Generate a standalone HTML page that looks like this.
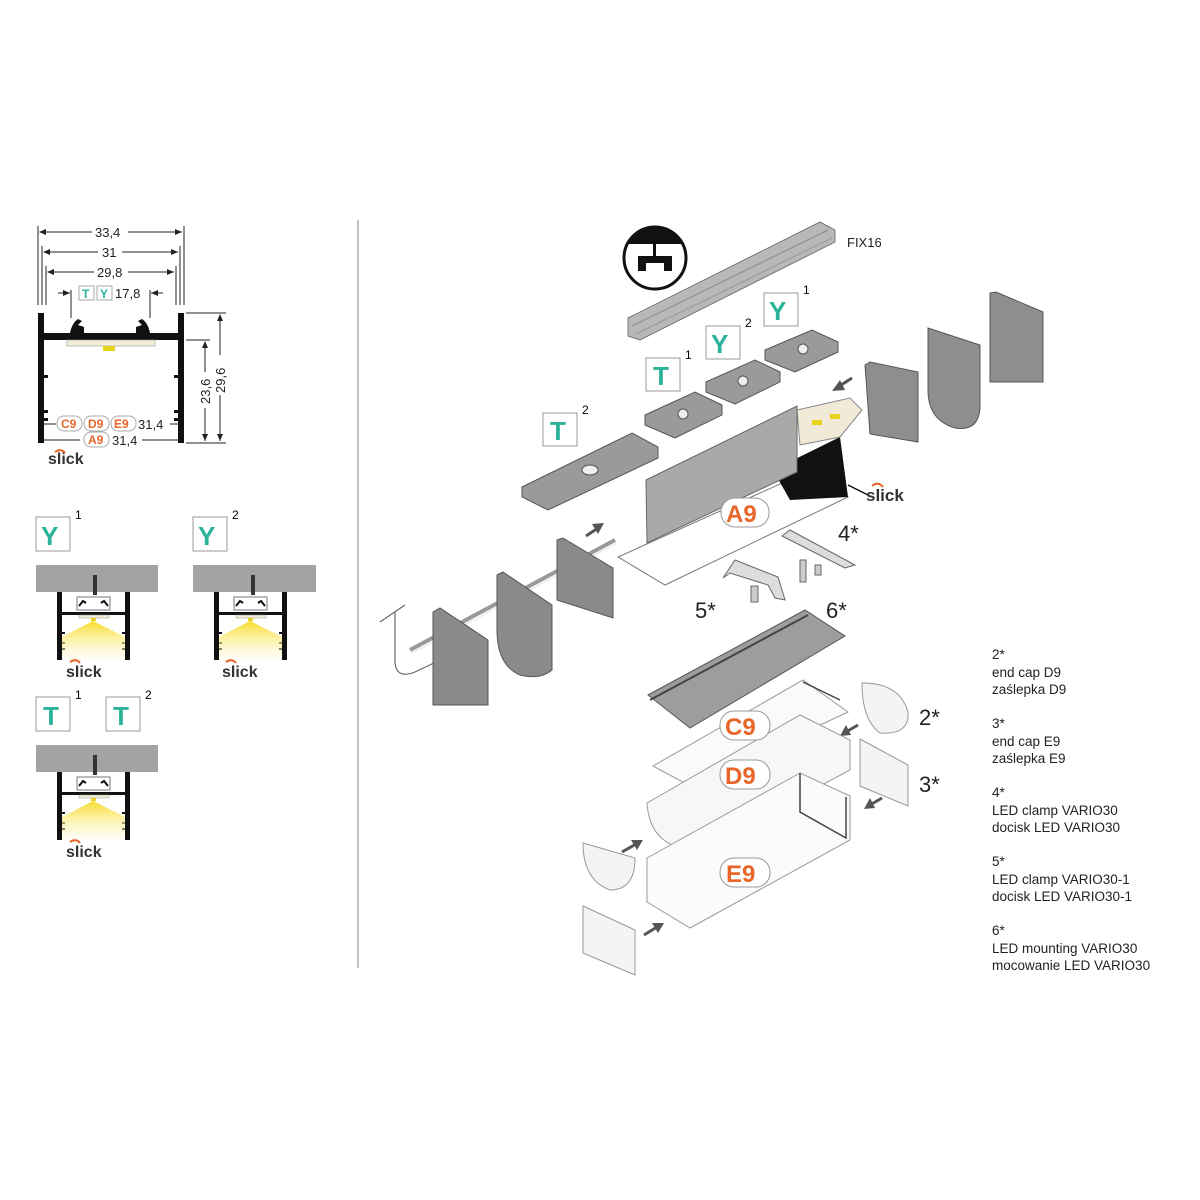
<!DOCTYPE html>
<html><head><meta charset="utf-8"><style>
html,body{margin:0;padding:0;background:#fff;}
svg{display:block;font-family:"Liberation Sans",sans-serif;}
.d{font-size:13px;fill:#222;}
.g{font-weight:bold;fill:#2bb39a;}
.o{font-weight:bold;fill:#e8662a;}
.n{font-size:13.5px;fill:#222;}
</style></head><body>
<svg width="1200" height="1200" viewBox="0 0 1200 1200">
<defs>
<marker id="ar" markerWidth="8" markerHeight="8" refX="7" refY="4" orient="auto"><path d="M0,1 L7,4 L0,7 z" fill="#222"/></marker>
<marker id="al" markerWidth="8" markerHeight="8" refX="1" refY="4" orient="auto"><path d="M7,1 L0,4 L7,7 z" fill="#222"/></marker>
<linearGradient id="lt" x1="0" y1="0" x2="0" y2="1"><stop offset="0" stop-color="#f7dc2a"/><stop offset="1" stop-color="#fffbe0" stop-opacity="0.3"/></linearGradient>
<g id="prof">
<rect x="0" y="0" width="5" height="68" fill="#111"/><rect x="68" y="0" width="5" height="68" fill="#111"/>
<rect x="0" y="20" width="73" height="3" fill="#111"/>
<rect x="4" y="40" width="4" height="2" fill="#111"/><rect x="65" y="40" width="4" height="2" fill="#111"/>
<rect x="4" y="50" width="4" height="2" fill="#111"/><rect x="65" y="50" width="4" height="2" fill="#111"/>
<rect x="4" y="56" width="4" height="2" fill="#111"/><rect x="65" y="56" width="4" height="2" fill="#111"/>
<rect x="22" y="23" width="30" height="3" fill="#f3eed6" stroke="#999" stroke-width="0.5"/>
<rect x="34" y="26" width="5" height="3" fill="#e7d21c"/>
<path d="M36,29 L5,45 L5,68 L68,68 L68,45 Z" fill="url(#lt)"/>
<rect x="20" y="5" width="33" height="13" fill="none" stroke="#777"/>
<path d="M22,14 l4,-5 l3,2 M51,14 l-4,-5 l-3,2" stroke="#111" stroke-width="2" fill="none"/>
</g>
</defs>

<line x1="358" y1="220" x2="358" y2="968" stroke="#999" stroke-width="1.2"/>

<g stroke="#222" stroke-width="1" fill="none">
<line x1="38" y1="226" x2="38" y2="305"/><line x1="184" y1="226" x2="184" y2="305"/>
<line x1="42" y1="246" x2="42" y2="305"/><line x1="180" y1="246" x2="180" y2="305"/>
<line x1="46" y1="266" x2="46" y2="305"/><line x1="176" y1="266" x2="176" y2="305"/>
<line x1="71" y1="290" x2="71" y2="318"/><line x1="150" y1="290" x2="150" y2="318"/>
<line x1="40" y1="232" x2="92" y2="232" marker-start="url(#al)"/><line x1="128" y1="232" x2="182" y2="232" marker-end="url(#ar)"/>
<line x1="44" y1="252" x2="98" y2="252" marker-start="url(#al)"/><line x1="122" y1="252" x2="178" y2="252" marker-end="url(#ar)"/>
<line x1="48" y1="272" x2="94" y2="272" marker-start="url(#al)"/><line x1="128" y1="272" x2="174" y2="272" marker-end="url(#ar)"/>
<line x1="58" y1="293" x2="70" y2="293" marker-end="url(#ar)"/><line x1="163" y1="293" x2="151" y2="293" marker-end="url(#ar)"/>
<line x1="186" y1="313" x2="226" y2="313"/><line x1="186" y1="443" x2="226" y2="443"/><line x1="186" y1="340" x2="210" y2="340"/>
<line x1="220" y1="315" x2="220" y2="355" marker-start="url(#al)"/><line x1="220" y1="395" x2="220" y2="441" marker-end="url(#ar)"/>
<line x1="205" y1="342" x2="205" y2="372" marker-start="url(#al)"/><line x1="205" y1="408" x2="205" y2="441" marker-end="url(#ar)"/>
<line x1="44" y1="424" x2="56" y2="424"/><line x1="44" y1="440" x2="80" y2="440"/><line x1="142" y1="440" x2="180" y2="440"/><line x1="170" y1="424" x2="180" y2="424"/>
</g>
<text x="95" y="237" class="d">33,4</text><text x="102" y="257" class="d">31</text><text x="97" y="277" class="d">29,8</text>
<rect x="79" y="286" width="15" height="14" fill="#fff" stroke="#aaa"/><rect x="97" y="286" width="15" height="14" fill="#fff" stroke="#aaa"/>
<text x="82" y="298" font-size="12" class="g">T</text><text x="100" y="298" font-size="12" class="g">Y</text>
<text x="115" y="298" class="d">17,8</text>
<text transform="translate(210,404) rotate(-90)" class="d">23,6</text>
<text transform="translate(225,393) rotate(-90)" class="d">29,6</text>
<rect x="38" y="313" width="6" height="130" fill="#111"/><rect x="178" y="313" width="6" height="130" fill="#111"/>
<rect x="38" y="333" width="146" height="7" fill="#111"/>
<path d="M70,333 q2,-10 8,-14 l4,2 l-4,4 l6,2 l0,6z M150,333 q-2,-10 -8,-14 l-4,2 l4,4 l-6,2 l0,6z" fill="#111"/>
<rect x="67" y="340" width="88" height="6" fill="#f3eed6" stroke="#999" stroke-width="0.6"/>
<rect x="103" y="346" width="12" height="5" fill="#e7d21c"/>
<g fill="#111"><rect x="43" y="375" width="5" height="3"/><rect x="174" y="375" width="5" height="3"/><rect x="43" y="410" width="5" height="3"/><rect x="174" y="410" width="5" height="3"/><rect x="43" y="418" width="5" height="3"/><rect x="174" y="418" width="5" height="3"/></g>
<g font-size="12"><rect x="57" y="416" width="25" height="15" rx="7" fill="#fff" stroke="#aaa"/><rect x="84" y="416" width="25" height="15" rx="7" fill="#fff" stroke="#aaa"/><rect x="111" y="416" width="25" height="15" rx="7" fill="#fff" stroke="#aaa"/>
<text x="61" y="428" class="o">C9</text><text x="88" y="428" class="o">D9</text><text x="114" y="428" class="o">E9</text>
<rect x="84" y="432" width="25" height="15" rx="7" fill="#fff" stroke="#aaa"/><text x="88" y="444" class="o">A9</text></g>
<text x="138" y="429" class="d">31,4</text><text x="112" y="445" class="d">31,4</text>
<text x="48" y="464" font-size="16" font-weight="bold" fill="#333">slick</text><path d="M55,452 q6,-4 10,1" stroke="#e8662a" stroke-width="2" fill="none"/>

<g font-size="26">
<rect x="36" y="517" width="34" height="34" fill="#fff" stroke="#999"/><text x="41" y="545" class="g">Y</text><text x="75" y="519" font-size="12">1</text>
<rect x="193" y="517" width="34" height="34" fill="#fff" stroke="#999"/><text x="198" y="545" class="g">Y</text><text x="232" y="519" font-size="12">2</text>
<rect x="36" y="697" width="34" height="34" fill="#fff" stroke="#999"/><text x="43" y="725" class="g">T</text><text x="75" y="699" font-size="12">1</text>
<rect x="106" y="697" width="34" height="34" fill="#fff" stroke="#999"/><text x="113" y="725" class="g">T</text><text x="145" y="699" font-size="12">2</text>
</g>
<rect x="36" y="565" width="122" height="27" fill="#a3a3a3"/><rect x="193" y="565" width="123" height="27" fill="#a3a3a3"/><rect x="36" y="745" width="122" height="27" fill="#a3a3a3"/>
<rect x="93" y="575" width="4" height="20" fill="#333"/><rect x="251" y="575" width="4" height="20" fill="#333"/><rect x="93" y="755" width="4" height="20" fill="#333"/>
<use href="#prof" transform="translate(57,592)"/><use href="#prof" transform="translate(214,592)"/><use href="#prof" transform="translate(57,772)"/>
<g font-size="16" font-weight="bold" fill="#333"><text x="66" y="677">slick</text><text x="222" y="677">slick</text><text x="66" y="857">slick</text></g>
<g stroke="#e8662a" stroke-width="2" fill="none"><path d="M70,662 q6,-4 10,1"/><path d="M226,662 q6,-4 10,1"/><path d="M70,842 q6,-4 10,1"/></g>

<circle cx="655" cy="258" r="31" fill="#fff" stroke="#111" stroke-width="3"/>
<path d="M627,244 A31,31 0 0 1 683,244 Z" fill="#111"/>
<rect x="653" y="244" width="3" height="12" fill="#111"/>
<path d="M638,256 h34 v15 h-8 v-8 h-18 v8 h-8z" fill="#111"/>
<text x="847" y="247" font-size="13" fill="#222">FIX16</text>
<polygon points="628,318 820,222 835,230 835,242 640,340 628,336" fill="#b8b8b8" stroke="#777"/>
<line x1="632" y1="326" x2="828" y2="230" stroke="#8a8a8a"/>
<line x1="636" y1="334" x2="832" y2="238" stroke="#999"/>
<g font-size="26">
<rect x="764" y="293" width="34" height="33" fill="#fff" stroke="#999"/><text x="769" y="320" class="g">Y</text><text x="803" y="294" font-size="12">1</text>
<rect x="706" y="326" width="34" height="33" fill="#fff" stroke="#999"/><text x="711" y="353" class="g">Y</text><text x="745" y="327" font-size="12">2</text>
<rect x="646" y="358" width="34" height="33" fill="#fff" stroke="#999"/><text x="653" y="385" class="g">T</text><text x="685" y="359" font-size="12">1</text>
<rect x="543" y="413" width="34" height="33" fill="#fff" stroke="#999"/><text x="550" y="440" class="g">T</text><text x="582" y="414" font-size="12">2</text>
</g>
<g fill="#9a9a9a" stroke="#555">
<polygon points="765,350 812,330 838,342 838,352 795,372 765,360"/>
<polygon points="706,382 755,360 780,372 780,382 735,404 706,392"/>
<polygon points="645,415 695,392 722,405 722,415 675,438 645,425"/>
<polygon points="522,487 632,433 658,447 658,458 548,510 522,497"/>
</g>
<g fill="#eee" stroke="#555"><circle cx="803" cy="349" r="5"/><circle cx="743" cy="381" r="5"/><circle cx="683" cy="414" r="5"/><ellipse cx="590" cy="470" rx="8" ry="5"/></g>
<polygon points="618,557 800,475 848,497 665,585" fill="#fff" stroke="#777"/>
<polygon points="773,470 840,437 848,497 790,500" fill="#111"/>
<polygon points="797,410 850,398 862,410 840,437 800,445" fill="#f0ead6" stroke="#888"/>
<rect x="812" y="420" width="10" height="5" fill="#e7d21c"/><rect x="830" y="414" width="10" height="5" fill="#e7d21c"/>
<polygon points="646,480 797,406 797,472 647,543" fill="#a9aaa8" stroke="#666"/>
<line x1="848" y1="485" x2="868" y2="495" stroke="#111" stroke-width="1.5"/>
<text x="866" y="501" font-size="17" font-weight="bold" fill="#333">slick</text><path d="M872,486 q6,-5 11,1" stroke="#e8662a" stroke-width="2" fill="none"/>
<rect x="721" y="498" width="48" height="29" rx="14" fill="#fff" stroke="#999"/><text x="726" y="522" font-size="24" class="o">A9</text>
<polygon points="865,365 870,362 918,372 918,442 870,434" fill="#8e8e8e" stroke="#555"/>
<path d="M928,328 L980,345 L980,405 Q980,432 955,428 Q928,420 928,390 Z" fill="#8e8e8e" stroke="#555"/>
<polygon points="990,293 996,292 1043,312 1043,382 990,382" fill="#8e8e8e" stroke="#555"/>
<g stroke="#555" stroke-width="3" fill="#555">
<line x1="852" y1="378" x2="838" y2="387"/><polygon points="832,391 840,380 845,390" stroke="none"/>
<line x1="586" y1="536" x2="598" y2="528"/><polygon points="604,523 592,524 598,534" stroke="none"/>
<line x1="858" y1="725" x2="846" y2="732"/><polygon points="840,736 846,725 851,735" stroke="none"/>
<line x1="882" y1="798" x2="870" y2="805"/><polygon points="864,809 870,798 875,808" stroke="none"/>
<line x1="622" y1="852" x2="636" y2="844"/><polygon points="643,840 631,840 637,850" stroke="none"/>
<line x1="644" y1="935" x2="657" y2="927"/><polygon points="664,923 652,923 658,933" stroke="none"/>
</g>
<path d="M380,622 L405,605 M395,612 L395,660 Q395,680 415,672 L436,662" stroke="#666" fill="none" stroke-width="1.2"/>
<line x1="410" y1="650" x2="615" y2="540" stroke="#999" stroke-width="4"/>
<line x1="412" y1="653" x2="617" y2="543" stroke="#eee" stroke-width="2"/>
<polygon points="433,612 440,608 488,640 488,705 433,705" fill="#8a8a8a" stroke="#555"/>
<path d="M497,575 L503,572 L552,605 L552,670 Q540,680 520,675 Q497,665 497,630 Z" fill="#8a8a8a" stroke="#555"/>
<polygon points="557,540 563,538 613,568 613,618 557,600" fill="#8a8a8a" stroke="#555"/>
<polygon points="782,536 790,530 855,565 845,568" fill="#ddd" stroke="#666"/>
<polygon points="723,578 735,560 778,577 785,600 775,598 768,585 730,573" fill="#ddd" stroke="#666"/>
<rect x="800" y="560" width="6" height="22" fill="#ccc" stroke="#666"/><rect x="815" y="565" width="6" height="10" fill="#ccc" stroke="#666"/><rect x="751" y="586" width="7" height="16" fill="#ccc" stroke="#666"/>
<g font-size="22" fill="#222"><text x="838" y="541">4*</text><text x="695" y="618">5*</text><text x="826" y="618">6*</text><text x="919" y="725">2*</text><text x="919" y="792">3*</text></g>
<polygon points="648,695 805,610 845,636 690,728" fill="#9c9e9c" stroke="#555"/>
<line x1="650" y1="700" x2="808" y2="615" stroke="#444" stroke-width="2"/>
<polygon points="653,766 803,680 848,712 690,786" fill="#fafafa" stroke="#999"/>
<path d="M803,682 L840,700 M805,720 Q810,770 840,768 Q848,765 848,740" stroke="#444" fill="none" stroke-width="1.5"/>
<path d="M647,803 L800,715 L850,740 L850,770 L700,850 Q650,850 647,803Z" fill="#f7f7f7" stroke="#999"/>
<polygon points="647,858 800,773 850,796 850,840 690,928 647,902" fill="#fbfbfb" stroke="#999"/>
<path d="M800,773 L800,812 L846,838 L846,797" stroke="#444" fill="none" stroke-width="1.5"/>
<path d="M862,683 Q900,683 908,712 Q910,735 880,733 Q862,720 862,683Z" fill="#f4f4f4" stroke="#999"/>
<polygon points="860,739 908,765 908,806 860,786" fill="#f4f4f4" stroke="#999"/>
<path d="M583,843 L635,858 Q635,890 610,890 Q583,880 583,843Z" fill="#f4f4f4" stroke="#999"/>
<polygon points="583,906 635,930 635,975 583,953" fill="#f4f4f4" stroke="#999"/>
<g font-size="24"><rect x="720" y="711" width="50" height="29" rx="14" fill="#fff" stroke="#999"/><text x="725" y="735" class="o">C9</text>
<rect x="720" y="760" width="50" height="29" rx="14" fill="#fff" stroke="#999"/><text x="725" y="784" class="o">D9</text>
<rect x="720" y="858" width="50" height="29" rx="14" fill="#fff" stroke="#999"/><text x="726" y="882" class="o">E9</text></g>
<g class="n">
<text x="992" y="659">2*</text><text x="992" y="677">end cap D9</text><text x="992" y="694">zaślepka D9</text>
<text x="992" y="728">3*</text><text x="992" y="746">end cap E9</text><text x="992" y="763">zaślepka E9</text>
<text x="992" y="797">4*</text><text x="992" y="815">LED clamp VARIO30</text><text x="992" y="832">docisk LED VARIO30</text>
<text x="992" y="866">5*</text><text x="992" y="884">LED clamp VARIO30-1</text><text x="992" y="901">docisk LED VARIO30-1</text>
<text x="992" y="935">6*</text><text x="992" y="953">LED mounting VARIO30</text><text x="992" y="970">mocowanie LED VARIO30</text>
</g>
</svg>
</body></html>
